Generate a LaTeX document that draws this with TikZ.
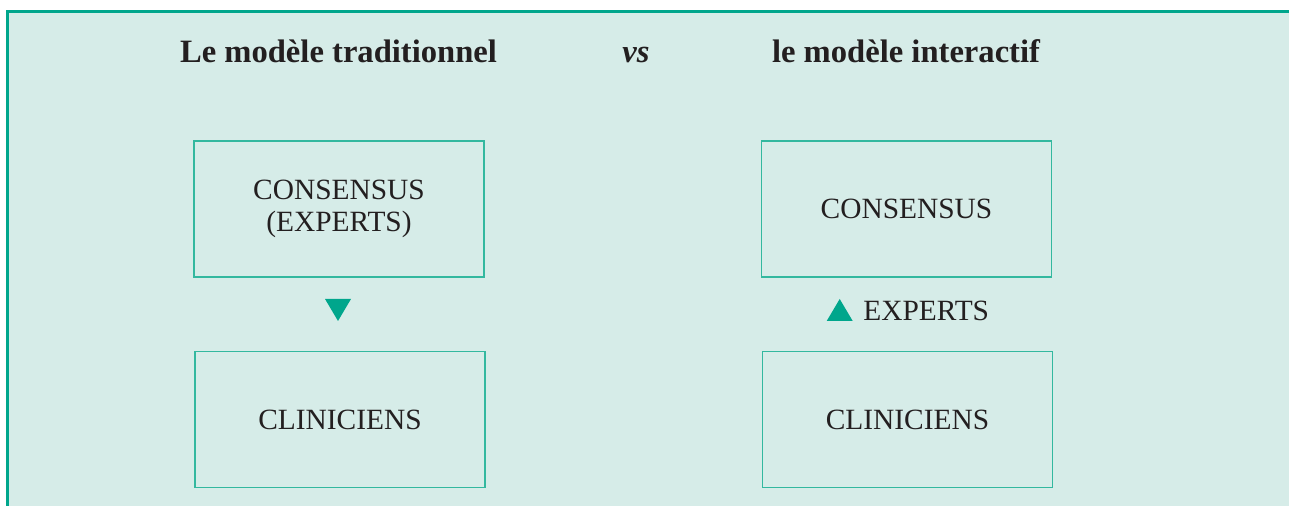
\documentclass[tikz,border=0pt]{standalone}
\usepackage{fontspec}
\setmainfont{Liberation Serif}
\definecolor{fondvert}{HTML}{D6ECE8}
\definecolor{cadre}{HTML}{00A68C}
\definecolor{filet}{HTML}{33B89F}
\definecolor{encre}{HTML}{231F20}
\begin{document}
\begin{tikzpicture}[x=0.5pt,y=0.5pt,
    boite/.style={draw=filet,line width=0.9pt,minimum width=145pt,minimum height=68pt,
      align=center,text=encre,font=\fontsize{14.7}{16}\selectfont},
    titre/.style={anchor=base,text=encre,font=\fontsize{16.3}{18}\selectfont\bfseries}]
  \clip (0,0) rectangle (1289,506);
  \fill[white] (0,0) rectangle (1289,506);
  \draw[cadre,line width=1.4pt,fill=fondvert] (7.2,-20) rectangle (1320,494.8);
  % titres
  \node[titre] (tradi) at (338.5,443) {Le modèle traditionnel};
  \node[titre,font=\fontsize{16.3}{18}\selectfont\bfseries\itshape] (vs) at (636,443) {vs};
  \node[titre] (inter) at (906,443) {le modèle interactif};
  % modele traditionnel
  \node[boite] (consL) at (339,297) {CONSENSUS\\(EXPERTS)};
  \node[boite] (cliL) at (340,86.5) {CLINICIENS};
  \fill[cadre] (325,207) -- (351,207) -- (338,185) -- cycle;
  % modele interactif
  \node[boite] (consR) at (906.5,297) {CONSENSUS};
  \node[boite] (cliR) at (907.5,86.5) {CLINICIENS};
  \fill[cadre] (826.7,185) -- (852.7,185) -- (839.7,207) -- cycle;
  \node[anchor=base west,inner sep=0pt,text=encre,font=\fontsize{14.7}{16}\selectfont] (exp) at (863,185) {EXPERTS};
\end{tikzpicture}
\end{document}
